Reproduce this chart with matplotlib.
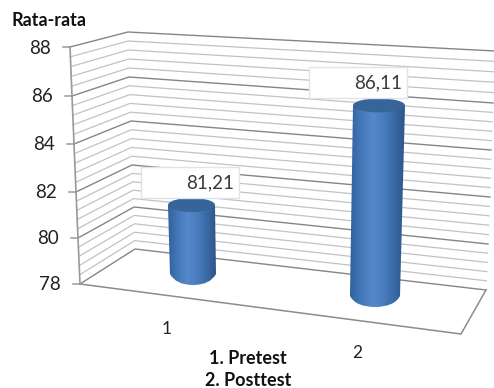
import numpy as np
import matplotlib
matplotlib.use('Agg')
import matplotlib.pyplot as plt
from matplotlib.colors import LinearSegmentedColormap
from matplotlib.patches import Ellipse, PathPatch, Rectangle
from matplotlib.path import Path

plt.rcParams['font.family'] = ['Lato', 'DejaVu Sans']

# chart data
categories = ['1', '2']
values = [81.21, 86.11]
value_labels = ['81,21', '86,11']
major_ticks = [78, 80, 82, 84, 86, 88]
y_title = 'Rata-rata'
x_notes = ['1. Pretest', '2. Posttest']

# pixel position of the 3d frame, one entry per major tick
front_x = [80, 78, 76, 74, 72, 70]
front_y = [284, 238, 192, 144, 96, 47]
corner_x = [135, 134, 132, 131, 129, 128]
corner_y = [249, 207, 165, 121, 77, 32]
right_x = [486, 488, 490, 491, 493, 495]
right_y = [290, 244, 197, 150, 103, 51]

fig = plt.figure(figsize=(4.94, 3.88), dpi=100)
ax = fig.add_axes([0, 0, 1, 1])
ax.set_xlim(0, 494)
ax.set_ylim(388, 0)
ax.axis('off')

# gridlines on both walls, 5 steps between major ticks
for v in np.arange(78, 88.01, 0.4):
    major = abs(v / 2 - round(v / 2)) < 0.01
    color = '#858585' if major else '#c2c2c2'
    lw = 1.0 if major else 0.9
    xs = [np.interp(v, major_ticks, front_x), np.interp(v, major_ticks, corner_x), np.interp(v, major_ticks, right_x)]
    ys = [np.interp(v, major_ticks, front_y), np.interp(v, major_ticks, corner_y), np.interp(v, major_ticks, right_y)]
    ax.plot(xs, ys, color=color, lw=lw, zorder=1)

# left edge, floor and ticks
ax.plot(front_x, front_y, color='#9a9a9a', lw=1.2, zorder=2)
ax.plot([front_x[0], 461, right_x[0]], [front_y[0], 334, right_y[0]], color='#8c8c8c', lw=1.1, zorder=2)
for t, x, y in zip(major_ticks, front_x, front_y):
    ax.plot([x - 7, x], [y, y], color='#9a9a9a', lw=1.1, zorder=2)
    ax.text(x - 19, y + 1, str(t), ha='right', va='center', fontsize=13.5, color='#222222')

# cylinders
cyl_left_bottom = [170, 350]
cyl_right_bottom = [216, 400]
cyl_left_top = [168, 353]
cyl_right_top = [215, 405]
cyl_base = [274, 296]
px_per_unit = [21.5, 23.5]
cmap = LinearSegmentedColormap.from_list('cyl', ['#30619f', '#4679ba', '#5388ca', '#4a7dbd', '#3a6aa6', '#2c5488'])
for i, v in enumerate(values):
    top = cyl_base[i] - px_per_unit[i] * (v - major_ticks[0])
    lb, rb, lt, rt = cyl_left_bottom[i], cyl_right_bottom[i], cyl_left_top[i], cyl_right_top[i]
    base = cyl_base[i]
    # body outline with a rounded bottom
    mid = (lb + rb) / 2
    verts = [(lt, top), (lb, base), (lb + 6, base + 11), (mid, base + 11), (rb - 6, base + 11), (rb, base), (rt, top), (lt, top)]
    codes = [Path.MOVETO, Path.LINETO, Path.CURVE3, Path.CURVE3, Path.CURVE3, Path.CURVE3, Path.LINETO, Path.CLOSEPOLY]
    body = PathPatch(Path(verts, codes), facecolor='none', edgecolor='none', zorder=3)
    ax.add_patch(body)
    im = ax.imshow(np.linspace(0, 1, 64).reshape(1, -1), cmap=cmap, aspect='auto',
                   extent=[min(lb, lt), max(rb, rt), base + 12, top], zorder=3)
    im.set_clip_path(body)
    ax.add_patch(Ellipse(((lt + rt) / 2, top), rt - lt, 14, facecolor='#376599', edgecolor='none', zorder=4))

ax.set_xlim(0, 494)
ax.set_ylim(388, 0)

# value label boxes
box_x = [141, 309]
box_y = [167, 67]
for i, lab in enumerate(value_labels):
    ax.add_patch(Rectangle((box_x[i], box_y[i]), 98, 31, facecolor='white', edgecolor='#dfe3ec', lw=1, zorder=5))
    ax.text(box_x[i] + 93, box_y[i] + 16, lab, ha='right', va='center', fontsize=13.5, color='#3a3a3a', zorder=6)

# category labels, they follow the slanted floor
cat_x = [167, 357]
cat_y = [329, 353]
for c, x, y in zip(categories, cat_x, cat_y):
    ax.text(x, y, c, ha='center', va='center', fontsize=12.5, color='#222222')

ax.text(11, 21, y_title, ha='left', va='center', fontsize=13, fontweight='bold', color='#111111')
ax.text(248, 358, x_notes[0], ha='center', va='center', fontsize=13, fontweight='bold', color='#111111')
ax.text(248, 381, x_notes[1], ha='center', va='center', fontsize=13, fontweight='bold', color='#111111')

fig.savefig('out.png', dpi=100)
